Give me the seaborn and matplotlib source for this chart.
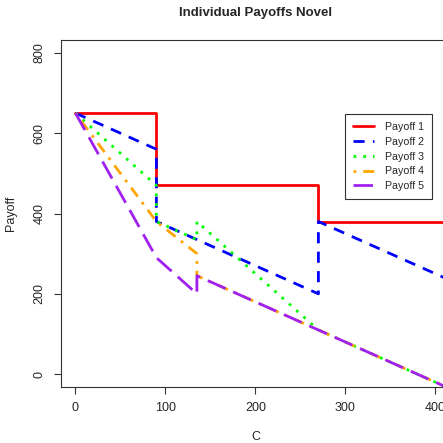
import numpy as np
import pandas as pd
import matplotlib
matplotlib.use("Agg")
import matplotlib.pyplot as plt
import seaborn as sns

# Data (breakpoints; repeated C = vertical jump)
c1 = [0, 90, 90, 270, 270, 420]
p1 = [650, 650, 470, 470, 380, 380]
c2 = [0, 90, 90, 270, 270, 420]
p2 = [650, 560, 380, 200, 380, 230]
c3 = [0, 90, 90, 135, 135, 270, 420]
p3 = [650, 470, 380, 335, 380, 110, -40]
c4 = [0, 90, 135, 135, 270, 420]
p4 = [650, 380, 300, 245, 110, -40]
c5 = [0, 90, 135, 135, 270, 420]
p5 = [650, 290, 200, 245, 110, -40]
labels = ["Payoff 1", "Payoff 2", "Payoff 3", "Payoff 4", "Payoff 5"]
xticks = [0, 100, 200, 300, 400]
yticks = [0, 200, 400, 600, 800]

sns.set_style("ticks")
plt.rcParams['font.family'] = ['Liberation Sans', 'DejaVu Sans']

frames = []
for lab, c, p in zip(labels, [c1, c2, c3, c4, c5], [p1, p2, p3, p4, p5]):
    frames.append(pd.DataFrame({"C": c, "Payoff": p, "series": lab}))
df = pd.concat(frames, ignore_index=True)

colors = ["#FF0000", "#0000FF", "#00FF00", "#FFA500", "#A020F0"]
dashes = [None, (4, 3), (1, 2.5), (1, 2.5, 4, 2.5), (7, 3)]

fig = plt.figure(figsize=(4.43, 4.43), dpi=100)
ax = fig.add_axes([61/443, 56/443, 388.8/443, 347/443])

for lab, col, ds in zip(labels, colors, dashes):
    sub = df[df.series == lab]
    sns.lineplot(data=sub, x="C", y="Payoff", sort=False, estimator=None,
                 color=col, linewidth=2.0, ax=ax, label=lab)
    if ds is not None:
        ax.lines[-1].set_dashes(ds)

ax.set_xlim(-16, 416)
ax.set_ylim(-32, 832)
ax.set_xticks(xticks)
ax.set_yticks(yticks)
ax.set_yticklabels([str(v) for v in yticks], rotation=90, va="center")
ax.tick_params(labelsize=9, length=5, width=0.8, color="#333333", pad=6)
for s in ax.spines.values():
    s.set_linewidth(0.8)
    s.set_color("#333333")
ax.set_xlabel("C", fontsize=9, labelpad=12)
ax.set_ylabel("Payoff", fontsize=9, labelpad=12)
ax.set_title("Individual Payoffs Novel", fontsize=9.5, fontweight="bold", pad=17)

leg = ax.legend(loc="upper left", bbox_to_anchor=(0.730, 0.787), fontsize=7.7,
                frameon=True, fancybox=False, framealpha=1, edgecolor="#333333",
                handlelength=2.0, handletextpad=1.0, labelspacing=0.45, borderpad=0.75,
                borderaxespad=0)
leg.get_frame().set_linewidth(0.8)

fig.savefig("out.png", dpi=100)
